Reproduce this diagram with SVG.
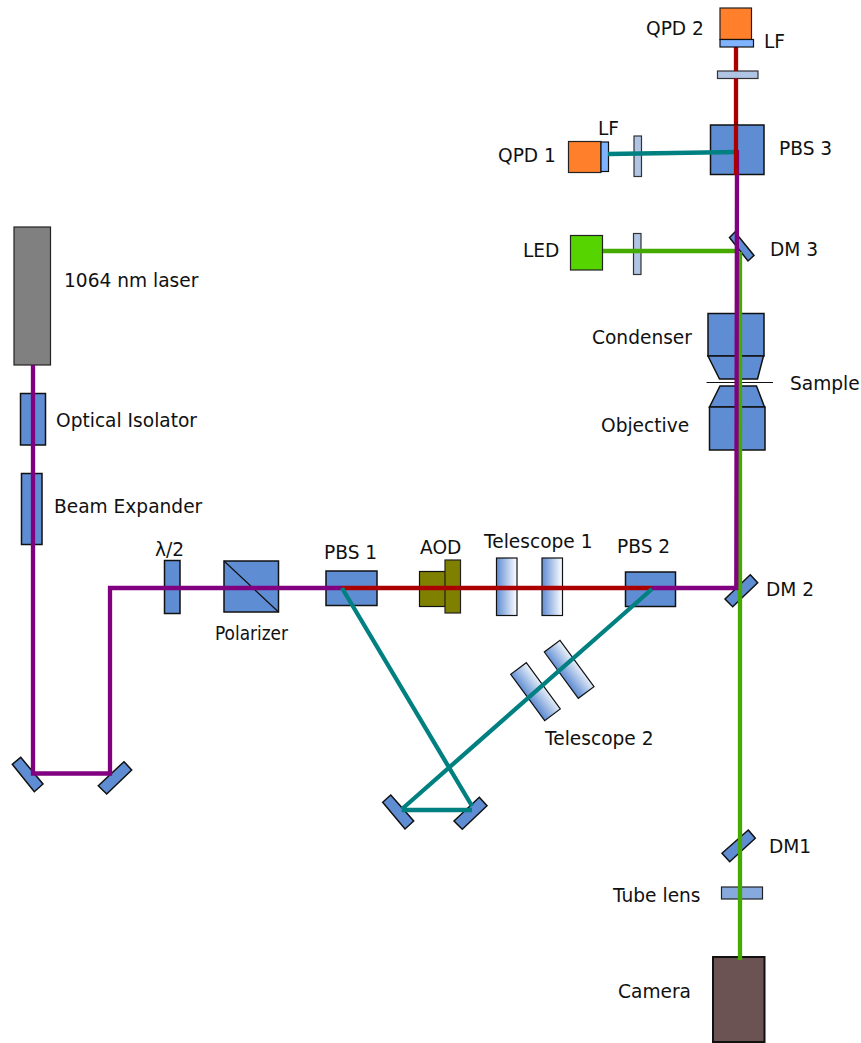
<svg xmlns="http://www.w3.org/2000/svg" width="861" height="1043" viewBox="0 0 861 1043">
<style>
text{font-family:"DejaVu Sans",sans-serif;font-size:18.6px;fill:#111}
.b{fill:#5f8dd3;stroke:#111;stroke-width:1.5}
.l{fill:#b0c4e4;stroke:#333;stroke-width:1.2}
.g{fill:url(#gh);stroke:#111;stroke-width:1.2}
.ray{fill:none;stroke-width:4.3}
.pu{stroke:#800080}.re{stroke:#aa0000}.te{stroke:#008080}.gr{stroke:#44aa00}
</style>
<defs>
<linearGradient id="gh" x1="0" x2="1" y1="0" y2="0"><stop offset="0" stop-color="#5f8dd3"/><stop offset="1" stop-color="#fff"/></linearGradient>
<linearGradient id="gd1" gradientUnits="userSpaceOnUse" x1="528" y1="698" x2="546" y2="684"><stop offset="0" stop-color="#5f8dd3"/><stop offset="1" stop-color="#fff"/></linearGradient>
<linearGradient id="gd2" gradientUnits="userSpaceOnUse" x1="561" y1="675" x2="579" y2="661"><stop offset="0" stop-color="#5f8dd3"/><stop offset="1" stop-color="#fff"/></linearGradient>
</defs>
<g id="qpd2-lens"><rect class="l" x="717.5" y="71" width="40.5" height="7.5"/></g>
<g id="connectors-under"><path class="ray re" d="M736 47V71M736 78.500V175"/></g>
<g id="laser"><rect x="14" y="227" width="36.500" height="138" fill="#808080" stroke="#222" stroke-width="1.2"/><text x="64" y="286.700">1064 nm laser</text></g>
<g id="isolator"><rect class="b" x="20.500" y="393.500" width="25" height="51.500"/><text x="56" y="426.700">Optical Isolator</text></g>
<g id="expander"><rect class="b" x="21.500" y="473.500" width="20.500" height="71"/><text x="54" y="512.700">Beam Expander</text></g>
<g id="mirror-1"><polygon class="b" points="20.700,757.300 43,784 34.300,791.700 12.300,764.300"/></g>
<g id="mirror-2"><polygon class="b" points="124,761.700 131.700,770 106.700,794 98.300,785.700"/></g>
<g id="halfwave"><rect class="b" x="164.500" y="560.500" width="15.500" height="53"/><text x="155" y="555.500">λ/2</text></g>
<g id="polarizer"><rect class="b" x="224" y="561" width="54.500" height="51"/><path d="M224 561L278.500 612" stroke="#111" stroke-width="1.200"/><text x="215" y="640" style="font-size:20px" textLength="73" lengthAdjust="spacingAndGlyphs">Polarizer</text></g>
<g id="pbs1"><rect class="b" x="326" y="571" width="51" height="34.500"/><text x="324" y="558.700">PBS 1</text></g>
<g id="aod"><rect x="419.500" y="571.500" width="26" height="35" fill="#808000" stroke="#111" stroke-width="1.200"/><rect x="445" y="560" width="15.500" height="53" fill="#808000" stroke="#222" stroke-width="1.200"/><text x="420" y="553.500">AOD</text></g>
<g id="telescope-1"><rect class="g" x="496.500" y="558" width="20.500" height="57.500"/><rect class="g" x="542" y="558" width="20.500" height="57.500"/><text x="484" y="547.700">Telescope 1</text></g>
<g id="pbs2"><rect class="b" x="625.500" y="572" width="50" height="34.500"/><text x="617" y="552.700">PBS 2</text></g>
<g id="dm2"><polygon class="b" points="750.300,574.700 757.700,582.700 732.700,606.700 725,599"/><text x="766" y="595.700">DM 2</text></g>
<g id="telescope-2"><polygon points="526.300,662.700 560.300,709 544.700,720.700 510.700,674.300" fill="url(#gd1)" stroke="#111" stroke-width="1.200"/><polygon points="560,640.300 594,686.700 578.300,698.300 544.300,652" fill="url(#gd2)" stroke="#111" stroke-width="1.200"/><text x="545" y="745.300">Telescope 2</text></g>
<g id="mirror-3"><polygon class="b" points="390.700,795 413.700,821 405,829 382.700,802.300"/></g>
<g id="mirror-4"><polygon class="b" points="479.300,797.300 487,805.700 462.300,829.300 454,821"/></g>
<g id="qpd2"><rect x="720" y="8" width="31.500" height="31.500" fill="#ff7f2a" stroke="#222" stroke-width="1.200"/><rect x="720" y="39.500" width="33.500" height="7.500" fill="#80b3ff" stroke="#111" stroke-width="1.200"/><text x="646" y="34.500">QPD 2</text><text x="764" y="47.700">LF</text></g>
<g id="pbs3"><rect class="b" x="710.500" y="125" width="53.500" height="49.500"/><text x="779" y="154.700">PBS 3</text></g>
<g id="qpd1"><rect x="568.500" y="141.500" width="32.500" height="31" fill="#ff7f2a" stroke="#222" stroke-width="1.200"/><rect x="601" y="142" width="7.500" height="29.500" fill="#80b3ff" stroke="#111" stroke-width="1.200"/><rect class="l" x="634" y="136" width="7.500" height="40.500"/><text x="498" y="162.300">QPD 1</text><text x="598" y="135.300">LF</text></g>
<g id="led"><rect x="570.500" y="235.500" width="32" height="34.500" fill="#55d400" stroke="#222" stroke-width="1.200"/><rect class="l" x="633.500" y="233.500" width="7.500" height="41"/><text x="523" y="257.300">LED</text></g>
<g id="dm3"><polygon class="b" points="735,232 729.500,237.500 748,261 754,255.500"/><text x="770" y="256.300">DM 3</text></g>
<g id="condenser"><rect class="b" x="708" y="313.500" width="56" height="42.500"/><polygon class="b" points="708,356 763.500,356 757.500,379 719.500,379"/><text x="592" y="343.700">Condenser</text></g>
<g id="sample"><path d="M706.500 382.500H773" stroke="#111" stroke-width="1.200"/><text x="790" y="389.700">Sample</text></g>
<g id="objective"><polygon class="b" points="720,386 756.500,386 764.500,407 709.500,407"/><rect class="b" x="709.500" y="407" width="55.500" height="43"/><text x="601" y="431.700">Objective</text></g>
<g id="dm1"><polygon class="b" points="748.300,830 755.300,838.300 729.700,861.700 722,853.300"/><text x="769" y="853.300">DM1</text></g>
<g id="tube-lens"><rect x="721.500" y="887" width="41" height="12" fill="#87aade" stroke="#222" stroke-width="1.200"/><text x="613" y="902">Tube lens</text></g>
<g id="camera"><rect x="713" y="957" width="51.500" height="85" fill="#6c5353" stroke="#111" stroke-width="2"/><text x="618" y="998">Camera</text></g>
<g id="connectors">
<path class="ray pu" d="M33 365V773.500H110V588H342"/>
<path class="ray re" d="M342 588H652"/>
<path class="ray gr" d="M603 251H737M740 252V960"/>
<path class="ray pu" d="M652 588H738M736.300 590L737 150"/>
<path class="ray te" d="M342 588L472 806M472 810H401.700M402 809L652 589"/>
<path class="ray te" d="M608 154L737 152"/>
<path class="ray re" d="M736 125V175"/>
</g>
</svg>
